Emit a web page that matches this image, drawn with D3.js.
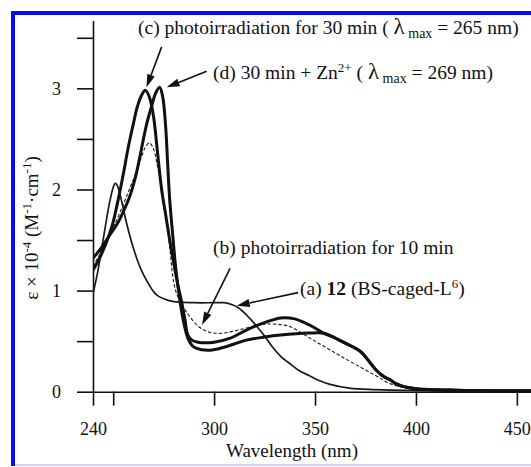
<!DOCTYPE html>
<html>
<head>
<meta charset="utf-8">
<script src="https://cdn.jsdelivr.net/npm/d3@7"></script>
<style>
  html, body { margin: 0; padding: 0; background: #fff; }
  svg { display: block; }
</style>
</head>
<body>
<svg id="uv-plot"></svg>
<script>
// UV-vis spectra: BS-caged-L6 before / after photoirradiation, and with Zn2+
const wavelengthTicks = [240, 250, 300, 350, 400, 450];
const epsTicks = [0, 0.5, 1, 1.5, 2, 2.5, 3, 3.5];

// [wavelength (nm), epsilon x 10^-4]
const curveA = [[240,0.97],[242,1.15],[244,1.38],[246,1.62],[248,1.85],[250,2.02],[251,2.06],[252,2.04],[254,1.90],[256,1.72],[258,1.56],[260,1.42],[262,1.30],[264,1.20],[266,1.12],[268,1.05],[270,0.99],[272,0.95],[275,0.92],[280,0.89],[290,0.88],[300,0.88],[305,0.88],[309,0.86],[312,0.83],[316,0.76],[321,0.65],[325,0.55],[329,0.44],[333,0.35],[338,0.27],[342,0.21],[347,0.16],[352,0.11],[357,0.075],[367,0.035],[380,0.02],[400,0.01],[430,0.005],[457,0.005]];
const curveB = [[240,1.24],[245,1.42],[250,1.62],[255,1.85],[258,2.00],[261,2.15],[264,2.32],[266,2.42],[268,2.46],[270,2.40],[272,2.22],[274,2.02],[276,1.75],[278,1.43],[280,1.08],[282,0.94],[285,0.83],[288,0.74],[292,0.65],[296,0.60],[300,0.58],[305,0.58],[310,0.60],[316,0.63],[322,0.66],[328,0.67],[334,0.66],[338,0.64],[345,0.56],[350,0.50],[356,0.43],[362,0.36],[370,0.27],[380,0.16],[387,0.08],[392,0.05],[400,0.02],[420,0.01],[457,0.01]];
const curveC = [[240,1.20],[244,1.35],[248,1.55],[250,1.68],[252.5,1.90],[255,2.15],[257.5,2.42],[260,2.65],[262,2.82],[264,2.93],[266,2.98],[268,2.91],[270,2.72],[272,2.36],[274,2.00],[276,1.75],[278,1.50],[280,1.27],[282,1.06],[284,0.88],[285.5,0.72],[287,0.56],[289,0.51],[292,0.49],[300,0.49],[308,0.53],[316,0.61],[326,0.69],[333,0.73],[340,0.72],[345,0.68],[350,0.63],[354,0.58],[358,0.55],[362,0.51],[366,0.47],[370,0.43],[373,0.39],[376,0.32],[380,0.22],[384,0.15],[387,0.12],[390,0.08],[394,0.05],[400,0.03],[420,0.015],[457,0.01]];
const curveD = [[240,1.32],[244,1.42],[248,1.54],[252,1.66],[255,1.78],[258,1.92],[261,2.12],[263,2.30],[265,2.50],[267,2.68],[269,2.82],[271,2.95],[273,3.01],[274.5,2.92],[276,2.62],[277,2.25],[278,1.90],[279.5,1.55],[281,1.22],[283,0.91],[285,0.68],[287,0.53],[289,0.46],[291,0.43],[298,0.41],[305,0.44],[316,0.51],[325,0.54],[333,0.56],[347,0.58],[354,0.58],[358,0.55],[362,0.51],[366,0.47],[370,0.43],[373,0.39],[376,0.32],[380,0.22],[384,0.15],[387,0.12],[390,0.08],[394,0.05],[400,0.03],[420,0.015],[457,0.01]];

// annotation arrows: [tailNm, tailEps, tipNm, tipEps]
const arrowC = [274.0, 3.41, 266.5, 3.01];
const arrowD = [296.3, 3.17, 276.5, 3.01];
const arrowB = [307.9, 1.22, 294.0, 0.66];
const arrowA = [341.6, 0.98, 311.2, 0.85];

const W = 531, H = 467;
const svg = d3.select("#uv-plot").attr("width", W).attr("height", H);
const font = "'Liberation Serif', 'Times New Roman', serif";
const NB = "\u00a0"; // keeps the spaces around lambda

// blue frame (right edge is cut off in the original)
svg.append("rect").attr("x", 11).attr("y", 11).attr("width", 4).attr("height", 455).attr("fill", "#0a0af0");
svg.append("rect").attr("x", 11).attr("y", 11).attr("width", W - 11).attr("height", 4).attr("fill", "#0a0af0");
svg.append("rect").attr("x", 15).attr("y", 464).attr("width", W - 15).attr("height", 2).attr("fill", "#cfd0fb");

const x = d3.scaleLinear().domain([240, 457]).range([93, 531]);
const y = d3.scaleLinear().domain([0, 3.67]).range([391.7, 20.6]);

svg.append("clipPath").attr("id", "clip")
  .append("rect").attr("x", 93).attr("y", 15).attr("width", W - 93).attr("height", 380);

// axes
const yAxis = svg.append("g")
  .attr("transform", "translate(93,0)")
  .call(d3.axisLeft(y).tickValues(epsTicks).tickSize(16).tickSizeOuter(0).tickPadding(16)
    .tickFormat(d => Number.isInteger(d) ? d : ""));
const xAxis = svg.append("g")
  .attr("transform", "translate(0,391.7)")
  .call(d3.axisBottom(x).tickValues(wavelengthTicks).tickSize(14).tickSizeOuter(0).tickPadding(17)
    .tickFormat(d => d === 250 ? "" : d));
[xAxis, yAxis].forEach(g => {
  g.selectAll("path, line").attr("stroke", "#111").attr("stroke-width", 1.6);
  g.selectAll("text").attr("fill", "#111").style("font-family", font).style("font-size", "18px");
});

// spectra
const line = d3.line().curve(d3.curveCatmullRom.alpha(0.5)).x(d => x(d[0])).y(d => y(d[1]));
const plot = svg.append("g").attr("clip-path", "url(#clip)");
plot.append("path").datum(curveA).attr("fill", "none").attr("stroke", "#1a1a1a").attr("stroke-width", 1.7).attr("d", line);
plot.append("path").datum(curveB).attr("fill", "none").attr("stroke", "#1a1a1a").attr("stroke-width", 1.1).attr("stroke-dasharray", "3.5,2").attr("d", line);
plot.append("path").datum(curveC).attr("fill", "none").attr("stroke", "#111").attr("stroke-width", 3).attr("d", line);
plot.append("path").datum(curveD).attr("fill", "none").attr("stroke", "#111").attr("stroke-width", 3).attr("d", line);

// arrows
function drawArrow(a) {
  const x1 = x(a[0]), y1 = y(a[1]), x2 = x(a[2]), y2 = y(a[3]);
  const ang = Math.atan2(y2 - y1, x2 - x1);
  const len = 13, hw = 4;
  const bx = x2 - len * Math.cos(ang), by = y2 - len * Math.sin(ang);
  svg.append("line").attr("x1", x1).attr("y1", y1).attr("x2", bx).attr("y2", by)
    .attr("stroke", "#111").attr("stroke-width", 1.6);
  svg.append("path")
    .attr("d", `M${x2},${y2}L${bx + hw * Math.sin(ang)},${by - hw * Math.cos(ang)}L${bx - hw * Math.sin(ang)},${by + hw * Math.cos(ang)}Z`)
    .attr("fill", "#111");
}
[arrowC, arrowD, arrowB, arrowA].forEach(drawArrow);

// labels
const label = (nm, eps) => svg.append("text")
  .attr("x", x(nm)).attr("y", y(eps))
  .attr("fill", "#111").style("font-family", font).style("font-size", "19.5px");

function lambdaMax(t, value, dy) {
  t.append("tspan").attr("dy", dy || 0).text(NB + "(" + NB);
  t.append("tspan").style("font-size", "23px").text("λ");
  t.append("tspan").attr("dy", 4).style("font-size", "14px").text(NB + "max");
  t.append("tspan").attr("dy", -4).text(NB + `= ${value} nm)`);
}

let t = label(262.3, 3.54);
t.append("tspan").text("(c) photoirradiation for 30 min");
lambdaMax(t, 265);

t = label(299.5, 3.09);
t.append("tspan").text("(d) 30 min + Zn");
t.append("tspan").attr("dy", -7).style("font-size", "13px").text("2+");
lambdaMax(t, 269, 7);

label(299.5, 1.36).text("(b) photoirradiation for 10 min");

t = label(342.6, 0.96);
t.append("tspan").text("(a)" + NB);
t.append("tspan").style("font-weight", "bold").text("12");
t.append("tspan").text(NB + "(BS-caged-L");
t.append("tspan").attr("dy", -7).style("font-size", "13px").text("6");
t.append("tspan").attr("dy", 7).text(")");

// axis titles
svg.append("text")
  .attr("x", 292).attr("y", 457)
  .attr("text-anchor", "middle")
  .attr("fill", "#111").style("font-family", font).style("font-size", "19px")
  .text("Wavelength (nm)");

const yt = svg.append("text")
  .attr("transform", "translate(38,228) rotate(-90)")
  .attr("text-anchor", "middle")
  .attr("fill", "#111").style("font-family", font).style("font-size", "19px");
yt.append("tspan").text("ε × 10");
yt.append("tspan").attr("dy", -7).style("font-size", "13px").text("-4");
yt.append("tspan").attr("dy", 7).text(NB + "(M");
yt.append("tspan").attr("dy", -7).style("font-size", "13px").text("-1");
yt.append("tspan").attr("dy", 7).text("·cm");
yt.append("tspan").attr("dy", -7).style("font-size", "13px").text("-1");
yt.append("tspan").attr("dy", 7).text(")");
</script>
</body>
</html>
